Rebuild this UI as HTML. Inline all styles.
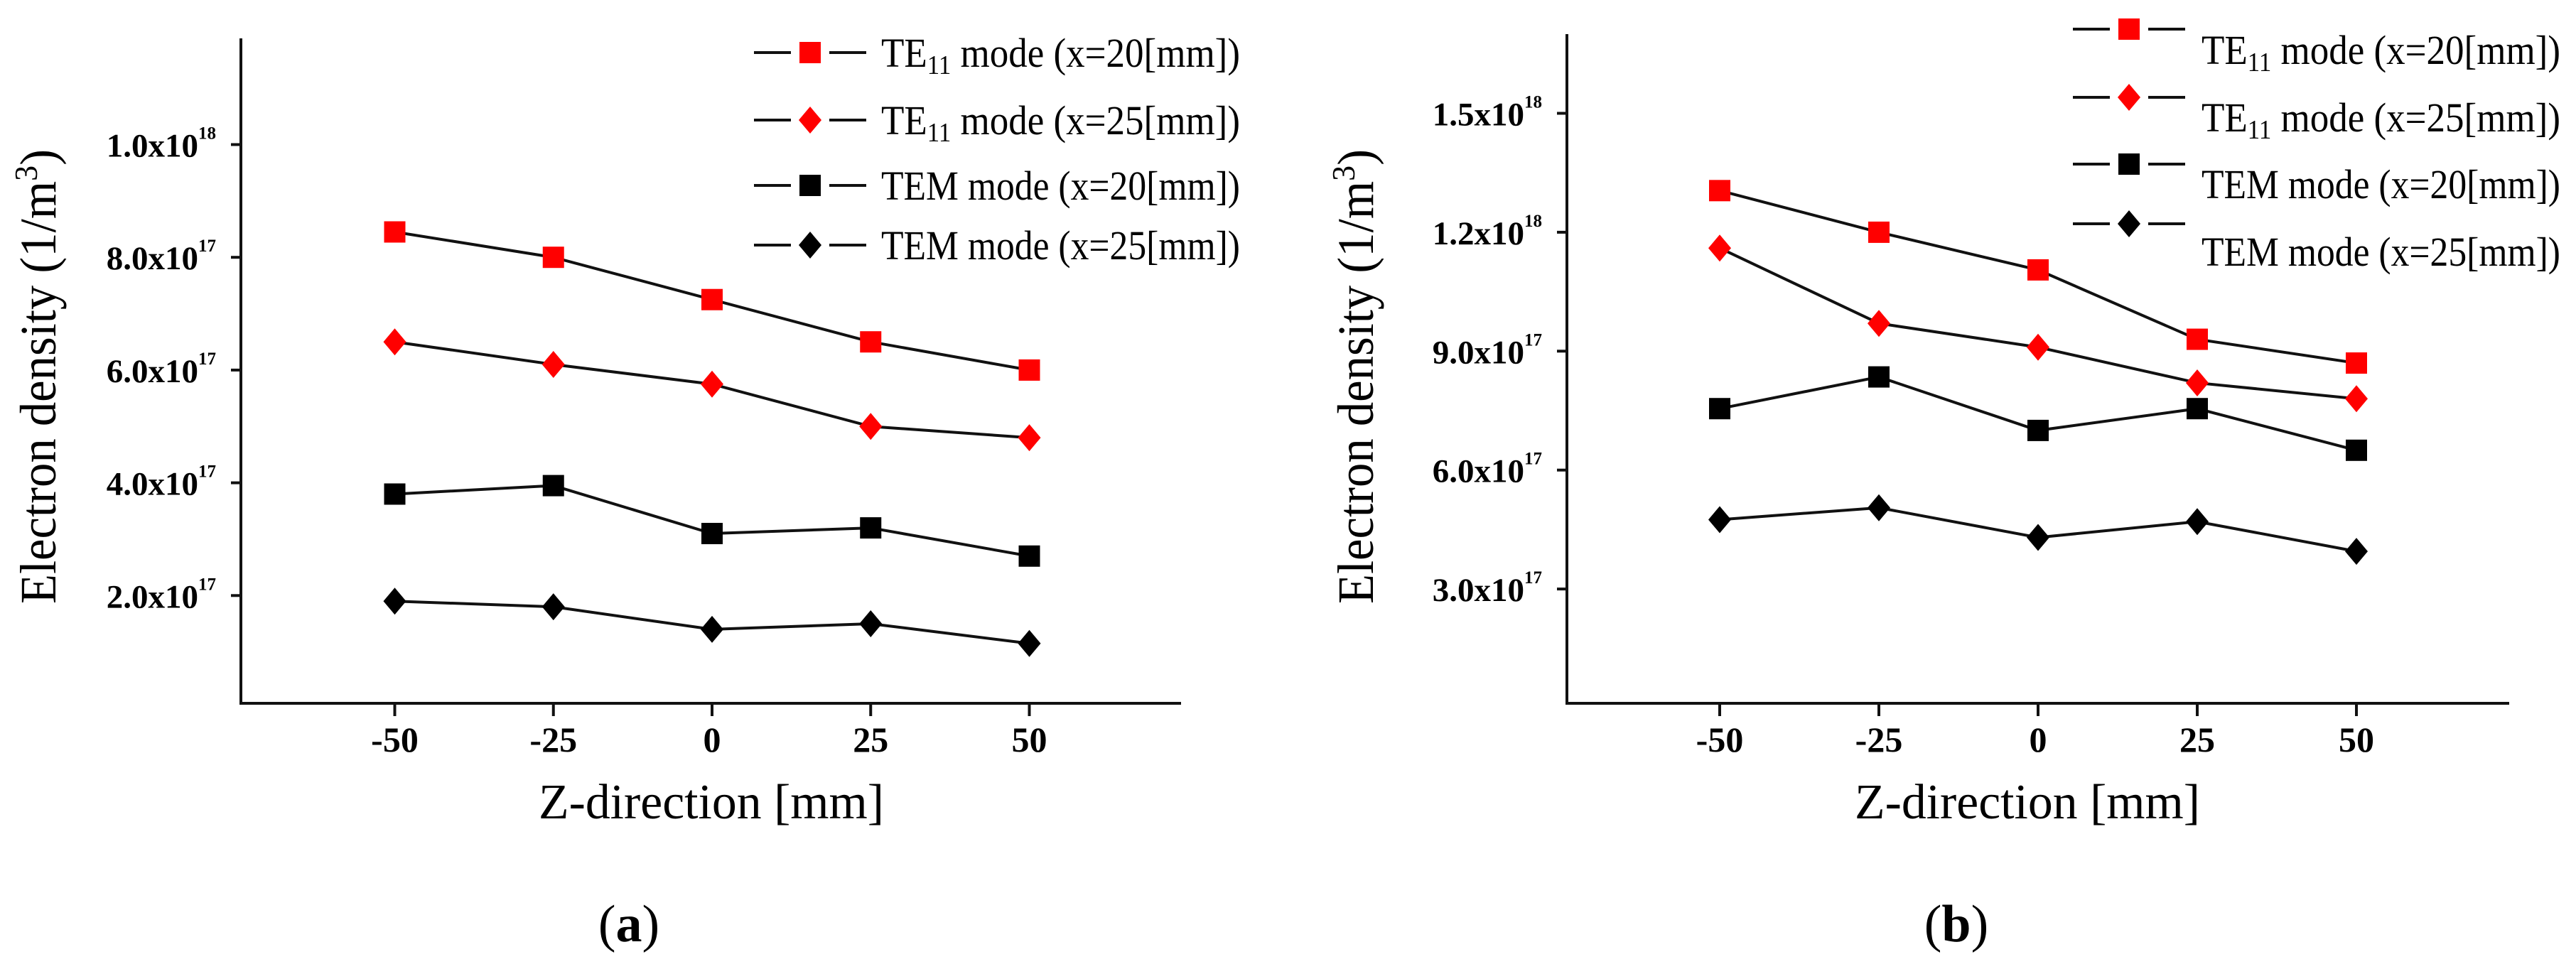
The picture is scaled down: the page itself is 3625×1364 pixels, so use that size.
<!DOCTYPE html>
<html><head><meta charset="utf-8"><style>
html,body{margin:0;padding:0;background:#fff;}
svg{display:block;font-family:"Liberation Serif",serif;}
</style></head><body>
<svg id="fig" width="3625" height="1364" viewBox="0 0 3625 1364" xmlns="http://www.w3.org/2000/svg"></svg>
<script>
const categories = [-50, -25, 0, 25, 50];
const xTicks = [-50, -25, 0, 25, 50];
const seriesNames = ["TE11 mode (x=20[mm])", "TE11 mode (x=25[mm])", "TEM mode (x=20[mm])", "TEM mode (x=25[mm])"];
// panel (a), units of 1e17
const aTE20 = [8.45, 8.0, 7.25, 6.5, 6.0];
const aTE25 = [6.5, 6.1, 5.75, 5.0, 4.8];
const aTEM20 = [3.8, 3.95, 3.1, 3.2, 2.7];
const aTEM25 = [1.9, 1.8, 1.4, 1.5, 1.15];
const aYTicks = [2, 4, 6, 8, 10];
const aYTickLabels = [["2.0x10","17"],["4.0x10","17"],["6.0x10","17"],["8.0x10","17"],["1.0x10","18"]];
// panel (b), units of 1e17
const bTE20 = [13.05, 12.0, 11.05, 9.3, 8.7];
const bTE25 = [11.6, 9.7, 9.1, 8.2, 7.8];
const bTEM20 = [7.55, 8.35, 7.0, 7.55, 6.5];
const bTEM25 = [4.75, 5.05, 4.3, 4.7, 3.95];
const bYTicks = [3, 6, 9, 12, 15];
const bYTickLabels = [["3.0x10","17"],["6.0x10","17"],["9.0x10","17"],["1.2x10","18"],["1.5x10","18"]];

const NS = "http://www.w3.org/2000/svg";
const svg = document.getElementById('fig');
function mk(tag, attrs, parent){
  const e = document.createElementNS(NS, tag);
  for (const k in attrs) e.setAttribute(k, attrs[k]);
  (parent||svg).appendChild(e);
  return e;
}
function marker(g, type, color, cx, cy, name){
  let m;
  if (type === 'sq') m = mk('rect', {x:cx-15, y:cy-15, width:30, height:30, fill:color}, g);
  else m = mk('polygon', {points:`${cx},${cy-19} ${cx+16},${cy} ${cx},${cy+19} ${cx-16},${cy}`, fill:color}, g);
  
  
}
function panel(cfg){
  const g = mk('g', {});
  
  
  const xs = v => cfg.x0 + v * cfg.xPer;
  const ys = v => cfg.yBase - v * cfg.yPer;
  const ax = mk('path', {d:`M${cfg.left} ${cfg.top} L${cfg.left} ${cfg.bottom} L${cfg.right} ${cfg.bottom}`, stroke:'#111', 'stroke-width':4, fill:'none'}, g);
  
  
  xTicks.forEach(t => {
    const x = xs(t);
    const tk = mk('line', {x1:x, y1:cfg.bottom, x2:x, y2:cfg.bottom+18, stroke:'#111', 'stroke-width':4}, g);
    
    
    const tl = mk('text', {x:x, y:cfg.bottom+68, 'text-anchor':'middle', 'font-size':50, 'font-weight':'bold'}, g);
    tl.textContent = String(t);
    
    
  });
  cfg.yTicks.forEach((t, i) => {
    const y = ys(t);
    const tk = mk('line', {x1:cfg.left-14, y1:y, x2:cfg.left, y2:y, stroke:'#111', 'stroke-width':4}, g);
    
    
    const tl = mk('text', {x:cfg.left-60, y:y+17, 'text-anchor':'end', 'font-size':47, 'font-weight':'bold'}, g);
    tl.textContent = cfg.yLabels[i][0];
    
    
    const sp = mk('text', {x:cfg.left-60, y:y-8, 'font-size':25, 'font-weight':'bold'}, g);
    sp.textContent = cfg.yLabels[i][1];
    
    
  });
  const defs = [[cfg.s[0],'sq','#f00'],[cfg.s[1],'di','#f00'],[cfg.s[2],'sq','#000'],[cfg.s[3],'di','#000']];
  defs.forEach((d, si) => {
    const pts = categories.map((c, i) => `${xs(c)},${ys(d[0][i])}`).join(' ');
    const pl = mk('polyline', {points:pts, fill:'none', stroke:'#111', 'stroke-width':4}, g);
    
    
    categories.forEach((c, i) => marker(g, d[1], d[2], xs(c), ys(d[0][i]), 'data-point'));
    const ly = cfg.legY[si];
    const l1 = mk('line', {x1:cfg.legX, y1:ly, x2:cfg.legX+52, y2:ly, stroke:'#111', 'stroke-width':4}, g);
    
    
    const l2 = mk('line', {x1:cfg.legX+106, y1:ly, x2:cfg.legX+158, y2:ly, stroke:'#111', 'stroke-width':4}, g);
    
    
    marker(g, d[1], d[2], cfg.legX+79, ly, 'legend-marker');
    const tx = mk('text', {x:cfg.legTX, y:cfg.legTY[si], 'font-size':58, textLength:505, lengthAdjust:'spacingAndGlyphs'}, g);
    
    
    if (si < 2) {
      tx.innerHTML = `TE<tspan font-size="38" dy="10">11</tspan><tspan dy="-10"> mode (x=${si===0?20:25}[mm])</tspan>`;
    } else {
      tx.textContent = seriesNames[si];
    }
  });
  const yt = mk('text', {x:0, y:0, 'font-size':72, 'text-anchor':'middle', textLength:640, lengthAdjust:'spacingAndGlyphs', transform:`translate(${cfg.yTitleX},530) rotate(-90)`}, g);
  yt.innerHTML = 'Electron  density  (1/m<tspan font-size="46" dy="-26">3</tspan><tspan dy="26">)</tspan>';
  
  
  const xt = mk('text', {x:cfg.xTitleX, y:1152, 'font-size':70, 'text-anchor':'middle', textLength:486, lengthAdjust:'spacingAndGlyphs'}, g);
  xt.textContent = 'Z-direction  [mm]';
  
  
  const cap = mk('text', {x:cfg.capX, y:1325, 'font-size':74, 'text-anchor':'middle'}, g);
  cap.innerHTML = `(<tspan font-weight="bold">${cfg.cap}</tspan>)`;
  
  
}
panel({name:'panel-a', left:339, right:1662, top:54, bottom:990, x0:1002, xPer:8.93, yBase:997, yPer:79.35,
  yTicks:aYTicks, yLabels:aYTickLabels, s:[aTE20,aTE25,aTEM20,aTEM25],
  legX:1061, legY:[74,169,261,345], legTX:1240, legTY:[94,189,281,365],
  yTitleX:78, xTitleX:1001, capX:885, cap:'a'});
panel({name:'panel-b', left:2205, right:3531, top:48, bottom:990, x0:2868, xPer:8.96, yBase:996.5, yPer:55.8,
  yTicks:bYTicks, yLabels:bYTickLabels, s:[bTE20,bTE25,bTEM20,bTEM25],
  legX:2917, legY:[41,137,231,315], legTX:3098, legTY:[90,185,279,374],
  yTitleX:1932, xTitleX:2853, capX:2753, cap:'b'});
</script>
</body></html>
